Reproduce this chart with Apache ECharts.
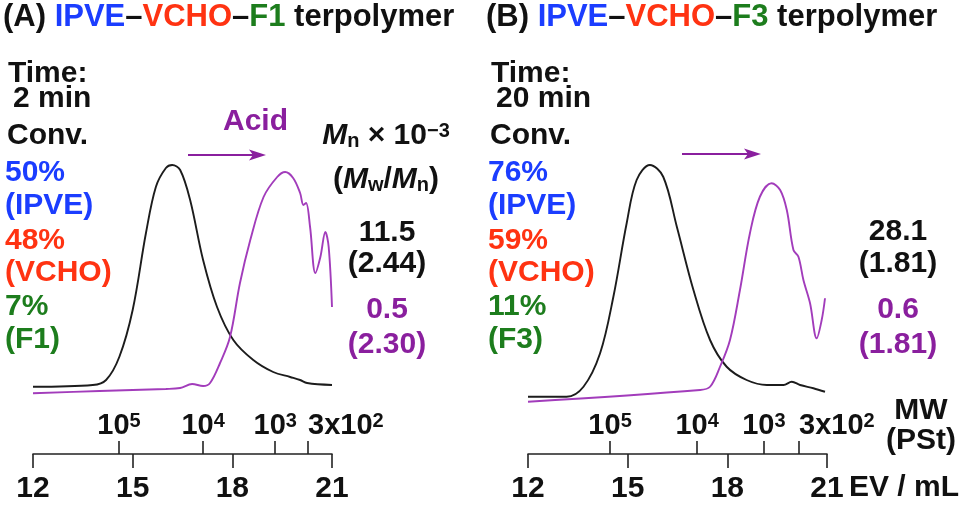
<!DOCTYPE html>
<html>
<head>
<meta charset="UTF-8">
<title>GPC IPVE-VCHO terpolymer</title>
<script src="https://cdn.jsdelivr.net/npm/echarts@6.0.0/dist/echarts.min.js"></script>
<style>
 html,body{margin:0;padding:0;background:#fff;}
 #main{width:967px;height:506px;}
</style>
</head>
<body>
<div id="main"></div>
<script>
// elution volume (mL) / detector response
var evA_before = [12, 13.8, 14.2, 14.6, 15.0, 15.4, 15.7, 16.0, 16.19, 16.43, 16.73, 17.12, 17.54, 18.03, 18.63, 19.23, 19.74, 20.04, 20.25, 21];
var rA_before  = [9.3, 10, 12, 21.3, 40, 70.8, 89.3, 96.8, 98, 96, 84, 60, 41.2, 28, 20, 15.2, 13.2, 12, 10.8, 10];
var evA_acid = [12, 14, 16.0, 16.43, 16.79, 17.12, 17.33, 17.63, 17.93, 18.23, 18.54, 18.94, 19.35, 19.59, 19.83, 20.04, 20.14, 20.22, 20.34, 20.5, 20.65, 20.8, 20.9, 21.0];
var rA_acid  = [6.7, 7.6, 8.4, 8.8, 10.4, 9.6, 10.8, 18.8, 29.2, 50.8, 68, 85.2, 93.2, 95.2, 92.8, 86.8, 82, 82.8, 73.2, 54.8, 61.2, 71.2, 65.2, 41.2];

var evB_before = [12.0, 13.16, 13.67, 14.17, 14.57, 14.97, 15.27, 15.67, 16.07, 16.48, 16.98, 17.48, 17.98, 18.58, 19.19, 19.69, 19.94, 20.19, 20.59, 20.94];
var rB_before  = [5.3, 5.3, 9.3, 22.7, 45.3, 74.7, 92, 98, 93.3, 73.3, 48, 28, 17.3, 12, 10, 10, 11.3, 10, 8.7, 7.3];
var evB_acid = [12, 17.18, 17.48, 17.78, 18.08, 18.38, 18.68, 18.98, 19.33, 19.59, 19.79, 19.99, 20.14, 20.29, 20.49, 20.69, 20.84, 20.94];
var rB_acid  = [3.3, 8, 9.3, 17.3, 28, 48, 70.7, 85.3, 90.7, 88, 80, 64, 61.3, 52, 42.7, 28.7, 36, 44.7];

// PSt calibration marks on the EV scale
var mwPosA = [14.59, 17.12, 19.29, 20.28];
var mwPosB = [14.47, 17.09, 19.10, 20.16];
var mwPre = ['', '', '', '3x'];
var mwExp = ['5', '4', '3', '2'];

var conv = {
  A: {time: '2 min', ipve: '50%', vcho: '48%', f: '7%', fName: '(F1)', mn: '11.5', pdi: '(2.44)', mnAcid: '0.5', pdiAcid: '(2.30)'},
  B: {time: '20 min', ipve: '76%', vcho: '59%', f: '11%', fName: '(F3)', mn: '28.1', pdi: '(1.81)', mnAcid: '0.6', pdiAcid: '(1.81)'}
};

var FONT = '"Liberation Sans", Arial, Helvetica, sans-serif';
var BLUE = '#1b3dff', RED = '#ff3312', GREEN = '#1d7d1d', PURPLE = '#8a1f9e', INK = '#111';
var LINE_PURPLE = '#a23cbb';
var FS = 30;

function zip(xs, ys) { return xs.map(function (x, i) { return [x, ys[i]]; }); }

function mwFormatter(pos) {
  return function (v) {
    var best = 0;
    for (var i = 1; i < pos.length; i++) if (Math.abs(pos[i] - v) < Math.abs(pos[best] - v)) best = i;
    return '{b|' + mwPre[best] + '10}{s|' + mwExp[best] + '}';
  };
}
var mwRich = {
  b: {fontSize: 29, fontWeight: 'bold', fontFamily: FONT, color: INK},
  s: {fontSize: 20, fontWeight: 'bold', fontFamily: FONT, color: INK, verticalAlign: 'top'}
};

function gridOf(left) {
  return {left: left, width: 299, top: 160, height: 250, outerBoundsMode: 'none', containLabel: false};
}
function evAxis(g) {
  return {
    type: 'value', gridIndex: g, min: 12, max: 21, interval: 3, position: 'bottom', offset: 44,
    axisLine: {show: true, onZero: false, lineStyle: {color: '#222', width: 1.6}},
    axisTick: {show: true, inside: false, length: 14, lineStyle: {color: '#222', width: 1.6}},
    axisLabel: {fontSize: FS, fontWeight: 'bold', fontFamily: FONT, color: INK, margin: 20},
    splitLine: {show: false}
  };
}
function mwAxis(g, pos, labelVals, align) {
  return {
    type: 'value', gridIndex: g, min: 12, max: 21, position: 'bottom', offset: 44,
    axisLine: {show: false, onZero: false},
    axisTick: {show: labelVals.length > 1, inside: true, length: 13, customValues: pos, lineStyle: {color: '#222', width: 1.6}},
    axisLabel: {inside: true, customValues: labelVals, margin: 14, align: align, hideOverlap: false,
      formatter: mwFormatter(pos), rich: mwRich},
    splitLine: {show: false}
  };
}
function yAxisOf(g) {
  return {type: 'value', gridIndex: g, min: 0, max: 100, show: false};
}
function trace(xi, data, color) {
  return {type: 'line', xAxisIndex: xi, yAxisIndex: xi === 0 ? 0 : 1, data: data, showSymbol: false, smooth: 0.35,
    lineStyle: {color: color, width: 1.9}, silent: true, animation: false};
}

function txt(x, y, text, color, align, size) {
  return {type: 'text', x: x, y: y, silent: true, style: {
    text: text, fill: color || INK, font: 'bold ' + (size || FS) + 'px ' + FONT,
    align: align || 'left', verticalAlign: 'middle'}};
}
function richTxt(x, y, text, align, size) {
  var base = {fontSize: size || FS, fontWeight: 'bold', fontFamily: FONT, fill: INK};
  return {type: 'text', x: x, y: y, silent: true, style: {
    text: text, align: align || 'left', verticalAlign: 'middle',
    rich: {
      k: base,
      bl: Object.assign({}, base, {fill: BLUE}),
      rd: Object.assign({}, base, {fill: RED}),
      gr: Object.assign({}, base, {fill: GREEN}),
      mi: Object.assign({}, base, {fontStyle: 'italic'}),
      sub: Object.assign({}, base, {fontSize: 20, verticalAlign: 'bottom'}),
      sup: Object.assign({}, base, {fontSize: 20, verticalAlign: 'top'})
    }}};
}
function arrow(x1, x2, y) {
  return [
    {type: 'line', silent: true, shape: {x1: x1, y1: y, x2: x2 - 8, y2: y}, style: {stroke: PURPLE, lineWidth: 2}},
    {type: 'polygon', silent: true, shape: {points: [[x2 - 17, y - 5.5], [x2, y], [x2 - 17, y + 5.5], [x2 - 13, y]]}, style: {fill: PURPLE}}
  ];
}

function panelText(p, dx, fKey) {
  var c = conv[p];
  return [
    richTxt(3 + dx, 17, '{k|(' + p + ') }{bl|IPVE}{k|–}{rd|VCHO}{k|–}{gr|' + fKey + '}{k| terpolymer}', 'left', 31),
    txt(8 + dx, 74, 'Time:'),
    txt(13 + dx, 99, c.time),
    txt(7 + dx, 136, 'Conv.'),
    txt(5 + dx, 173, c.ipve, BLUE),
    txt(5 + dx, 206, '(IPVE)', BLUE),
    txt(5 + dx, 241, c.vcho, RED),
    txt(5 + dx, 273, '(VCHO)', RED),
    txt(5 + dx, 307, c.f, GREEN),
    txt(5 + dx, 340, c.fName, GREEN)
  ];
}

var graphics = [].concat(
  panelText('A', 0, 'F1'),
  panelText('B', 483, 'F3'),
  [txt(223, 122, 'Acid', PURPLE)],
  arrow(188, 266, 155),
  arrow(682, 761, 154),
  [
    richTxt(386, 136, '{mi|M}{sub|n}{k| × 10}{sup|−3}', 'center'),
    richTxt(386, 180, '{k|(}{mi|M}{sub|w}{k|/}{mi|M}{sub|n}{k|)}', 'center'),
    txt(387, 233, conv.A.mn, INK, 'center'),
    txt(387, 264, conv.A.pdi, INK, 'center'),
    txt(387, 310, conv.A.mnAcid, PURPLE, 'center'),
    txt(387, 345, conv.A.pdiAcid, PURPLE, 'center'),
    txt(898, 232, conv.B.mn, INK, 'center'),
    txt(898, 264, conv.B.pdi, INK, 'center'),
    txt(898, 310, conv.B.mnAcid, PURPLE, 'center'),
    txt(898, 345, conv.B.pdiAcid, PURPLE, 'center'),
    txt(921, 411, 'MW', INK, 'center'),
    txt(921, 441, '(PSt)', INK, 'center'),
    txt(849, 488, 'EV / mL', INK, 'left')
  ]
);

var chart = echarts.init(document.getElementById('main'), null, {renderer: 'canvas'});
var option = {
  backgroundColor: '#fff',
  animation: false,
  grid: [gridOf(33), gridOf(528)],
  xAxis: [
    evAxis(0),
    mwAxis(0, mwPosA, mwPosA.slice(0, 3), 'center'),
    mwAxis(0, mwPosA, mwPosA.slice(3), 'left'),
    evAxis(1),
    mwAxis(1, mwPosB, mwPosB.slice(0, 3), 'center'),
    mwAxis(1, mwPosB, mwPosB.slice(3), 'left')
  ],
  yAxis: [yAxisOf(0), yAxisOf(1)],
  series: [
    trace(0, zip(evA_before, rA_before), '#1c1c1c'),
    trace(0, zip(evA_acid, rA_acid), LINE_PURPLE),
    trace(3, zip(evB_before, rB_before), '#1c1c1c'),
    trace(3, zip(evB_acid, rB_acid), LINE_PURPLE)
  ],
  graphic: graphics
};
chart.setOption(option);
</script>
</body>
</html>
